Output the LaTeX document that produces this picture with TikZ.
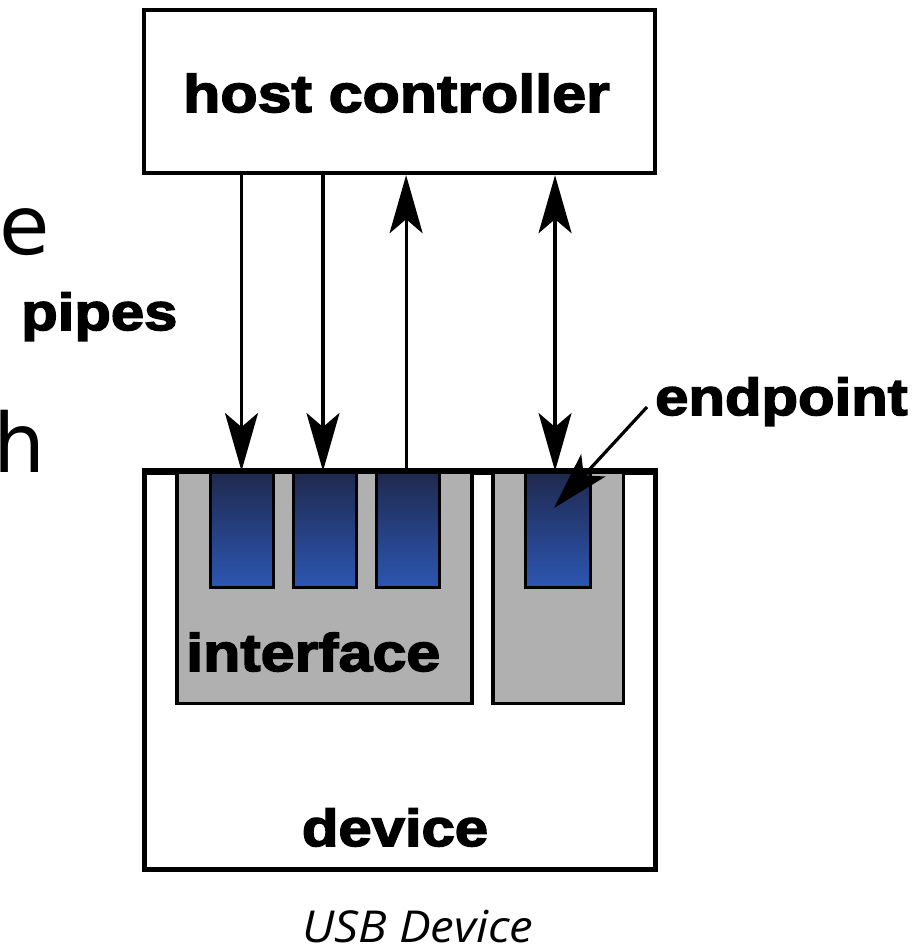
\documentclass[tikz,border=0pt]{standalone}
\usepackage{fontspec}
\usetikzlibrary{arrows.meta}
\newfontfamily\heavy[FakeStretch=1.15,BoldFeatures={FakeBold=3}]{Liberation Sans}
\newfontfamily\slidefont{DejaVu Sans}
\newfontfamily\capfont[ItalicFeatures={FakeStretch=1.08}]{Open Sans}
\definecolor{boxgray}{RGB}{176,176,176}
\definecolor{eptop}{RGB}{31,41,78}
\definecolor{epbot}{RGB}{44,86,178}
\tikzset{
  hv/.style={inner sep=0pt, font=\heavy\bfseries\fontsize{52}{60}\selectfont},
  gbox/.style={draw=black, line width=3.5pt, fill=boxgray, inner sep=0pt, minimum height=231.2pt},
  epbox/.style={draw=black, line width=3pt, top color=eptop, bottom color=epbot, inner sep=0pt, minimum width=63pt, minimum height=115pt},
  arr/.style={line width=3.2pt, -{Stealth[length=58pt,width=33pt,inset=14pt]}},
  darr/.style={line width=3.2pt, {Stealth[length=58pt,width=33pt,inset=14pt]}-{Stealth[length=58pt,width=33pt,inset=14pt]}},
}
\begin{document}
\begin{tikzpicture}[x=1pt,y=-1pt]
\useasboundingbox (0,0) rectangle (913,946);
% host controller
\node[draw, line width=3.8pt, inner sep=0pt, minimum width=511.3pt, minimum height=163.3pt] (host) at (399.35,91.65) {};
\node[hv, anchor=base, font=\heavy\bfseries\fontsize{53}{60}\selectfont] (hostlabel) at (396.5,112) {host controller};
% device
\node[draw, line width=5pt, inner sep=0pt, minimum width=511.5pt, minimum height=396.5pt] (device) at (399.75,670.75) {};
% interfaces
\node[gbox, minimum width=295pt] (iface) at (324.5,588.1) {};
\node[gbox, minimum width=130.7pt] (iface2) at (558.35,588.1) {};
% endpoints
\node[epbox] (ep1) at (241.5,530) {};
\node[epbox] (ep2) at (324.8,530) {};
\node[epbox] (ep3) at (408.1,530) {};
\node[epbox, minimum width=64.3pt] (ep4) at (557.85,530) {};
% device border on top
\draw[line width=5pt] (device.north west) -- (device.north east);
% labels
\node[hv, anchor=base west, font=\heavy\bfseries\fontsize{53}{60}\selectfont] (ifacelabel) at (186,671) {interface};
\node[hv, anchor=base] (devlabel) at (395,846) {device};
\node[hv, anchor=base west] (eplabel) at (655,415) {endpoint};
\node[hv, anchor=base west] (pipeslabel) at (21,330) {pipes};
\node[inner sep=0pt, anchor=base west, font=\slidefont\fontsize{82}{90}\selectfont] (slidee) at (-0.5,254) {e};
\node[inner sep=0pt, anchor=base west, font=\slidefont\fontsize{82}{90}\selectfont] (slideh) at (-6.5,472) {h};
\node[inner sep=0pt, anchor=base west, font=\capfont\itshape\fontsize{44}{50}\selectfont] (caption) at (302,942) {USB Device};
% pipes
\draw[arr] (host.south -| ep1.north) -- (ep1.north);
\draw[arr] ([xshift=-1.8pt]host.south -| ep2.north) -- ([xshift=-1.8pt]ep2.north);
\draw[arr] ([xshift=-2pt]ep3.north) -- ([xshift=-2pt]host.south -| ep3.north);
\draw[darr] ([xshift=-2.8pt]host.south -| ep4.north) -- ([xshift=-2.8pt]ep4.north);
% endpoint pointer
\coordinate (eptail) at (647,407);
\coordinate (eptip) at (554,508);
\draw[arr] (eptail) -- (eptip);
\end{tikzpicture}
\end{document}
